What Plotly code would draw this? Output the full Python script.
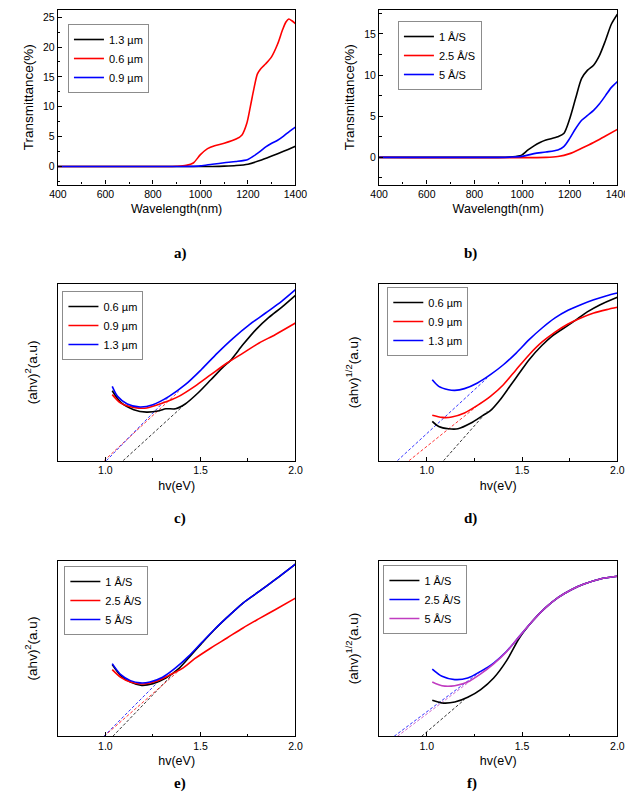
import plotly.graph_objects as go

# ---- a) transmittance vs wavelength, by thickness
a_x_red = [400, 850, 900, 940, 970, 1000, 1030, 1060, 1100, 1150, 1175, 1195, 1210, 1225, 1240, 1255, 1275, 1300, 1325, 1345, 1360, 1372, 1385, 1400]
a_y_red = [0, 0, 0.05, 0.2, 0.6, 2.0, 3.0, 3.5, 3.9, 4.6, 5.3, 7.2, 10.0, 13.0, 15.5, 16.4, 17.2, 18.4, 20.5, 22.8, 24.2, 24.7, 24.4, 23.9]
a_x_blue = [400, 900, 950, 1000, 1050, 1100, 1150, 1200, 1225, 1250, 1275, 1300, 1325, 1350, 1375, 1400]
a_y_blue = [0, 0, 0.03, 0.12, 0.4, 0.65, 0.85, 1.2, 1.8, 2.5, 3.3, 3.9, 4.4, 5.1, 5.9, 6.6]
a_x_black = [400, 1000, 1050, 1100, 1150, 1200, 1250, 1300, 1350, 1400]
a_y_black = [0, 0, 0.02, 0.07, 0.17, 0.4, 1.0, 1.75, 2.55, 3.4]

# ---- b) transmittance vs wavelength, by deposition rate
b_x_black = [400, 900, 950, 990, 1000, 1025, 1050, 1075, 1100, 1150, 1175, 1200, 1225, 1250, 1275, 1300, 1325, 1350, 1375, 1400]
b_y_black = [0, 0, 0.05, 0.2, 0.3, 0.9, 1.4, 1.8, 2.1, 2.5, 2.9, 4.7, 7.2, 9.6, 10.6, 11.2, 12.4, 14.2, 16.2, 17.4]
b_x_blue = [400, 900, 950, 1000, 1050, 1100, 1150, 1175, 1200, 1225, 1250, 1275, 1300, 1325, 1350, 1375, 1400]
b_y_blue = [0, 0, 0.03, 0.12, 0.45, 0.65, 0.9, 1.3, 2.3, 3.5, 4.5, 5.1, 5.7, 6.5, 7.5, 8.5, 9.2]
b_x_red = [400, 1100, 1150, 1200, 1250, 1300, 1350, 1400]
b_y_red = [0, 0, 0.1, 0.45, 1.1, 1.8, 2.6, 3.4]

# ---- c) (ahv)^2, by thickness (arbitrary units)
c_x_black = [1.036, 1.081, 1.149, 1.217, 1.284, 1.318, 1.369, 1.420, 1.487, 1.555, 1.623, 1.657, 1.724, 1.792, 1.860, 1.927, 2.0]
c_y_black = [39.6, 33.0, 28.9, 27.5, 28.3, 29.4, 29.4, 32.1, 38.3, 45.8, 53.4, 56.6, 65.7, 74.2, 81.1, 86.8, 93.6]
c_x_red = [1.036, 1.081, 1.149, 1.217, 1.301, 1.386, 1.470, 1.555, 1.640, 1.724, 1.809, 1.893, 2.0]
c_y_red = [37.4, 32.6, 30.2, 29.8, 32.6, 36.4, 42.1, 48.7, 55.3, 60.9, 66.6, 71.3, 77.9]
c_x_blue = [1.036, 1.064, 1.115, 1.183, 1.250, 1.335, 1.420, 1.504, 1.589, 1.673, 1.758, 1.843, 1.927, 2.0]
c_y_blue = [42.1, 36.4, 32.1, 30.4, 31.7, 36.4, 43.0, 51.5, 60.9, 69.4, 77.0, 83.6, 90.2, 96.8]
c_fit_x = {"black": [1.093, 1.420], "red": [0.993, 1.386], "blue": [1.005, 1.335]}
c_fit_y = {"black": [0, 32.1], "red": [0, 39.2], "blue": [0, 36.4]}

# ---- d) (ahv)^1/2, by thickness
d_x_black = [1.029, 1.063, 1.114, 1.164, 1.232, 1.300, 1.334, 1.385, 1.436, 1.486, 1.537, 1.605, 1.656, 1.741, 1.792, 1.842, 1.910, 2.0]
d_y_black = [22.3, 19.4, 18.1, 18.1, 21.3, 26.0, 28.3, 34.5, 42.1, 49.6, 57.2, 65.3, 70.4, 76.6, 80.4, 84.2, 88.3, 92.5]
d_x_red = [1.029, 1.080, 1.131, 1.198, 1.266, 1.334, 1.402, 1.469, 1.537, 1.605, 1.673, 1.741, 1.808, 1.876, 1.944, 2.0]
d_y_red = [25.7, 24.5, 24.7, 27.0, 31.3, 36.4, 43.0, 51.5, 60.0, 67.2, 72.8, 77.4, 80.8, 83.6, 85.5, 86.8]
d_x_blue = [1.029, 1.063, 1.114, 1.147, 1.198, 1.266, 1.334, 1.402, 1.469, 1.537, 1.605, 1.673, 1.741, 1.808, 1.876, 1.944, 2.0]
d_y_blue = [45.8, 42.1, 40.2, 39.8, 40.8, 44.0, 48.7, 54.3, 60.9, 68.5, 75.1, 80.8, 85.1, 88.3, 91.1, 93.4, 94.9]
d_fit_x = {"black": [1.088, 1.317], "red": [0.907, 1.283], "blue": [0.846, 1.317]}
d_fit_y = {"black": [0, 27.9], "red": [0, 32.6], "blue": [0, 46.8]}

# ---- e) (ahv)^2, by deposition rate
e_x_black = [1.036, 1.081, 1.132, 1.191, 1.250, 1.318, 1.386, 1.453, 1.504, 1.572, 1.640, 1.724, 1.809, 1.893, 2.0]
e_y_black = [40.8, 34.5, 30.9, 29.0, 30.0, 33.2, 38.5, 46.5, 52.6, 60.5, 67.7, 75.9, 82.5, 89.2, 98.1]
e_x_red = [1.036, 1.081, 1.132, 1.200, 1.267, 1.335, 1.403, 1.470, 1.555, 1.640, 1.724, 1.809, 1.893, 2.0]
e_y_red = [38.0, 33.6, 30.9, 29.8, 31.3, 34.7, 38.5, 44.2, 50.3, 56.0, 61.7, 67.0, 72.1, 78.7]
e_x_blue = [1.036, 1.081, 1.132, 1.183, 1.234, 1.301, 1.369, 1.437, 1.504, 1.572, 1.640, 1.724, 1.809, 1.893, 2.0]
e_y_blue = [41.4, 35.1, 31.7, 30.4, 30.9, 33.6, 38.9, 45.5, 53.1, 60.7, 67.7, 75.9, 82.5, 89.2, 98.1]
e_fit_x = {"black": [1.039, 1.352], "red": [0.993, 1.403], "blue": [0.992, 1.301]}
e_fit_y = {"black": [0, 35.1], "red": [0, 38.9], "blue": [0, 33.6]}

# ---- f) (ahv)^1/2, by deposition rate
f_x_black = [1.029, 1.080, 1.147, 1.215, 1.283, 1.351, 1.419, 1.486, 1.554, 1.622, 1.690, 1.758, 1.825, 1.910, 2.0]
f_y_black = [20.5, 19.0, 19.5, 22.2, 26.6, 33.2, 43.1, 56.0, 65.5, 73.1, 79.1, 83.5, 86.7, 89.6, 91.1]
f_x_blue = [1.029, 1.080, 1.147, 1.215, 1.283, 1.351, 1.419, 1.486, 1.554, 1.622, 1.690, 1.758, 1.825, 1.910, 2.0]
f_y_blue = [38.3, 34.2, 32.3, 33.2, 37.0, 41.7, 48.4, 56.9, 65.5, 73.1, 79.1, 83.5, 86.7, 89.6, 91.1]
f_x_mag = [1.029, 1.080, 1.147, 1.215, 1.283, 1.351, 1.419, 1.486, 1.554, 1.622, 1.690, 1.758, 1.825, 1.910, 2.0]
f_y_mag = [30.9, 28.8, 28.8, 30.9, 35.5, 41.2, 48.2, 56.9, 65.5, 73.1, 79.1, 83.5, 86.7, 89.6, 91.1]
f_fit_x = {"black": [0.973, 1.198], "blue": [0.829, 1.283], "mag": [0.846, 1.249]}
f_fit_y = {"black": [0, 20.9], "blue": [0, 37.0], "mag": [0, 33.2]}

COL = {"black": "#000000", "red": "#ff0000", "blue": "#0000ff", "mag": "#c03cc0"}
FONT = "Liberation Sans, Arial, sans-serif"

fig = go.Figure()


def curve(x, y, name, col, n, leg):
    fig.add_trace(go.Scatter(
        x=x, y=y, name=name, mode="lines",
        line=dict(color=COL[col], width=1.6, shape="spline", smoothing=0.8),
        xaxis="x" + ("" if n == 1 else str(n)), yaxis="y" + ("" if n == 1 else str(n)),
        legend=leg,
    ))


def fit(fx, fy, col, n):
    fig.add_trace(go.Scatter(
        x=fx[col], y=fy[col], mode="lines", showlegend=False,
        line=dict(color=COL[col], width=0.8, dash="3px,2px"),
        xaxis="x" + str(n), yaxis="y" + str(n),
    ))


curve(a_x_black, a_y_black, "1.3 µm", "black", 1, "legend")
curve(a_x_red, a_y_red, "0.6 µm", "red", 1, "legend")
curve(a_x_blue, a_y_blue, "0.9 µm", "blue", 1, "legend")

curve(b_x_black, b_y_black, "1 Å/S", "black", 2, "legend2")
curve(b_x_red, b_y_red, "2.5 Å/S", "red", 2, "legend2")
curve(b_x_blue, b_y_blue, "5 Å/S", "blue", 2, "legend2")

for c in ["black", "red", "blue"]:
    fit(c_fit_x, c_fit_y, c, 3)
curve(c_x_black, c_y_black, "0.6 µm", "black", 3, "legend3")
curve(c_x_red, c_y_red, "0.9 µm", "red", 3, "legend3")
curve(c_x_blue, c_y_blue, "1.3 µm", "blue", 3, "legend3")

for c in ["black", "red", "blue"]:
    fit(d_fit_x, d_fit_y, c, 4)
curve(d_x_black, d_y_black, "0.6 µm", "black", 4, "legend4")
curve(d_x_red, d_y_red, "0.9 µm", "red", 4, "legend4")
curve(d_x_blue, d_y_blue, "1.3 µm", "blue", 4, "legend4")

for c in ["black", "red", "blue"]:
    fit(e_fit_x, e_fit_y, c, 5)
curve(e_x_black, e_y_black, "1 Å/S", "black", 5, "legend5")
curve(e_x_red, e_y_red, "2.5 Å/S", "red", 5, "legend5")
curve(e_x_blue, e_y_blue, "5 Å/S", "blue", 5, "legend5")

for c in ["black", "blue", "mag"]:
    fit(f_fit_x, f_fit_y, c, 6)
curve(f_x_black, f_y_black, "1 Å/S", "black", 6, "legend6")
curve(f_x_blue, f_y_blue, "2.5 Å/S", "blue", 6, "legend6")
curve(f_x_mag, f_y_mag, "5 Å/S", "mag", 6, "legend6")

W, H = 633, 795


def px(x):
    return x / W


def py(y):
    return 1 - y / H


ax = dict(showline=True, linecolor="black", linewidth=1.2, mirror=True,
          ticks="inside", ticklen=4, tickcolor="black", showgrid=False, zeroline=False,
          tickfont=dict(family=FONT, size=10.5, color="black"),
          title_font=dict(family=FONT, size=12.5, color="black"))

left_l, left_r = px(42.3), px(288)
right_l, right_r = px(374.5), px(621)
rows = [(py(176.5), py(2)), (py(452.7), py(276)), (py(728.3), py(552.7))]

layout = dict(width=W, height=H, margin=dict(l=0, r=0, t=0, b=0),
              paper_bgcolor="white", plot_bgcolor="white", font=dict(family=FONT, color="black"))

wl_x = dict(range=[400, 1400], tickvals=[400, 600, 800, 1000, 1200, 1400],
            minor=dict(ticks="inside", ticklen=2.5, dtick=100, tickcolor="black"),
            title=dict(text="Wavelength(nm)", standoff=5))
hv_x = dict(range=[0.75, 2.0], tickvals=[1.0, 1.5, 2.0], ticktext=["1.0", "1.5", "2.0"],
            minor=dict(ticks="inside", ticklen=2.5, tickvals=[1.25, 1.75], tickcolor="black"),
            title=dict(text="hv(eV)", standoff=5))

ytt = dict(family=FONT, size=13.5, color="black")
layout["xaxis"] = dict(ax, domain=[left_l, left_r], anchor="y", **wl_x)
layout["yaxis"] = dict(ax, domain=list(rows[0]), anchor="x", range=[-3, 26.2], tickvals=[0, 5, 10, 15, 20, 25],
                       minor=dict(ticks="inside", ticklen=2.5, dtick=2.5, tickcolor="black"),
                       title=dict(text="Transmittance(%)", standoff=6, font=ytt))
layout["xaxis2"] = dict(ax, domain=[right_l, right_r], anchor="y2", **wl_x)
layout["yaxis2"] = dict(ax, domain=list(rows[0]), anchor="x2", range=[-3.3, 17.9], tickvals=[0, 5, 10, 15],
                        minor=dict(ticks="inside", ticklen=2.5, dtick=2.5, tickcolor="black"),
                        title=dict(text="Transmittance(%)", standoff=6, font=ytt))

ytitles = {3: "(ahv)<sup>2</sup>(a.u)", 4: "(ahv)<sup>1/2</sup>(a.u)",
           5: "(ahv)<sup>2</sup>(a.u)", 6: "(ahv)<sup>1/2</sup>(a.u)"}
for n in [3, 4, 5, 6]:
    dom_x = [left_l, left_r] if n % 2 == 1 else [right_l, right_r]
    dom_y = list(rows[1] if n in (3, 4) else rows[2])
    layout["xaxis" + str(n)] = dict(ax, domain=dom_x, anchor="y" + str(n), **hv_x)
    layout["yaxis" + str(n)] = dict(ax, domain=dom_y, anchor="x" + str(n), range=[0, 100],
                                    ticks="", showticklabels=False,
                                    title=dict(text=ytitles[n], standoff=16, font=ytt))

leg = dict(xanchor="left", yanchor="top", bgcolor="white", bordercolor="#8c8c8c", borderwidth=1,
           font=dict(family=FONT, size=11, color="black"), itemwidth=30, tracegroupgap=0)
layout["legend"] = dict(leg, x=px(52.7), y=py(16))
layout["legend2"] = dict(leg, x=px(394), y=py(13))
layout["legend3"] = dict(leg, x=px(47), y=py(283))
layout["legend4"] = dict(leg, x=px(383), y=py(279))
layout["legend5"] = dict(leg, x=px(49), y=py(558))
layout["legend6"] = dict(leg, x=px(379), y=py(557))

labels = [("a)", 160, 235), ("b)", 478, 235), ("c)", 160, 510), ("d)", 478, 510), ("e)", 160, 786), ("f)", 478, 786)]
layout["annotations"] = [dict(text="<b>" + t + "</b>", x=px(x), y=py(y), xref="paper", yref="paper",
                              showarrow=False, font=dict(family="Liberation Serif, Times New Roman, serif", size=15, color="black"))
                         for t, x, y in labels]

fig.update_layout(layout)
fig.write_html("out.html")
